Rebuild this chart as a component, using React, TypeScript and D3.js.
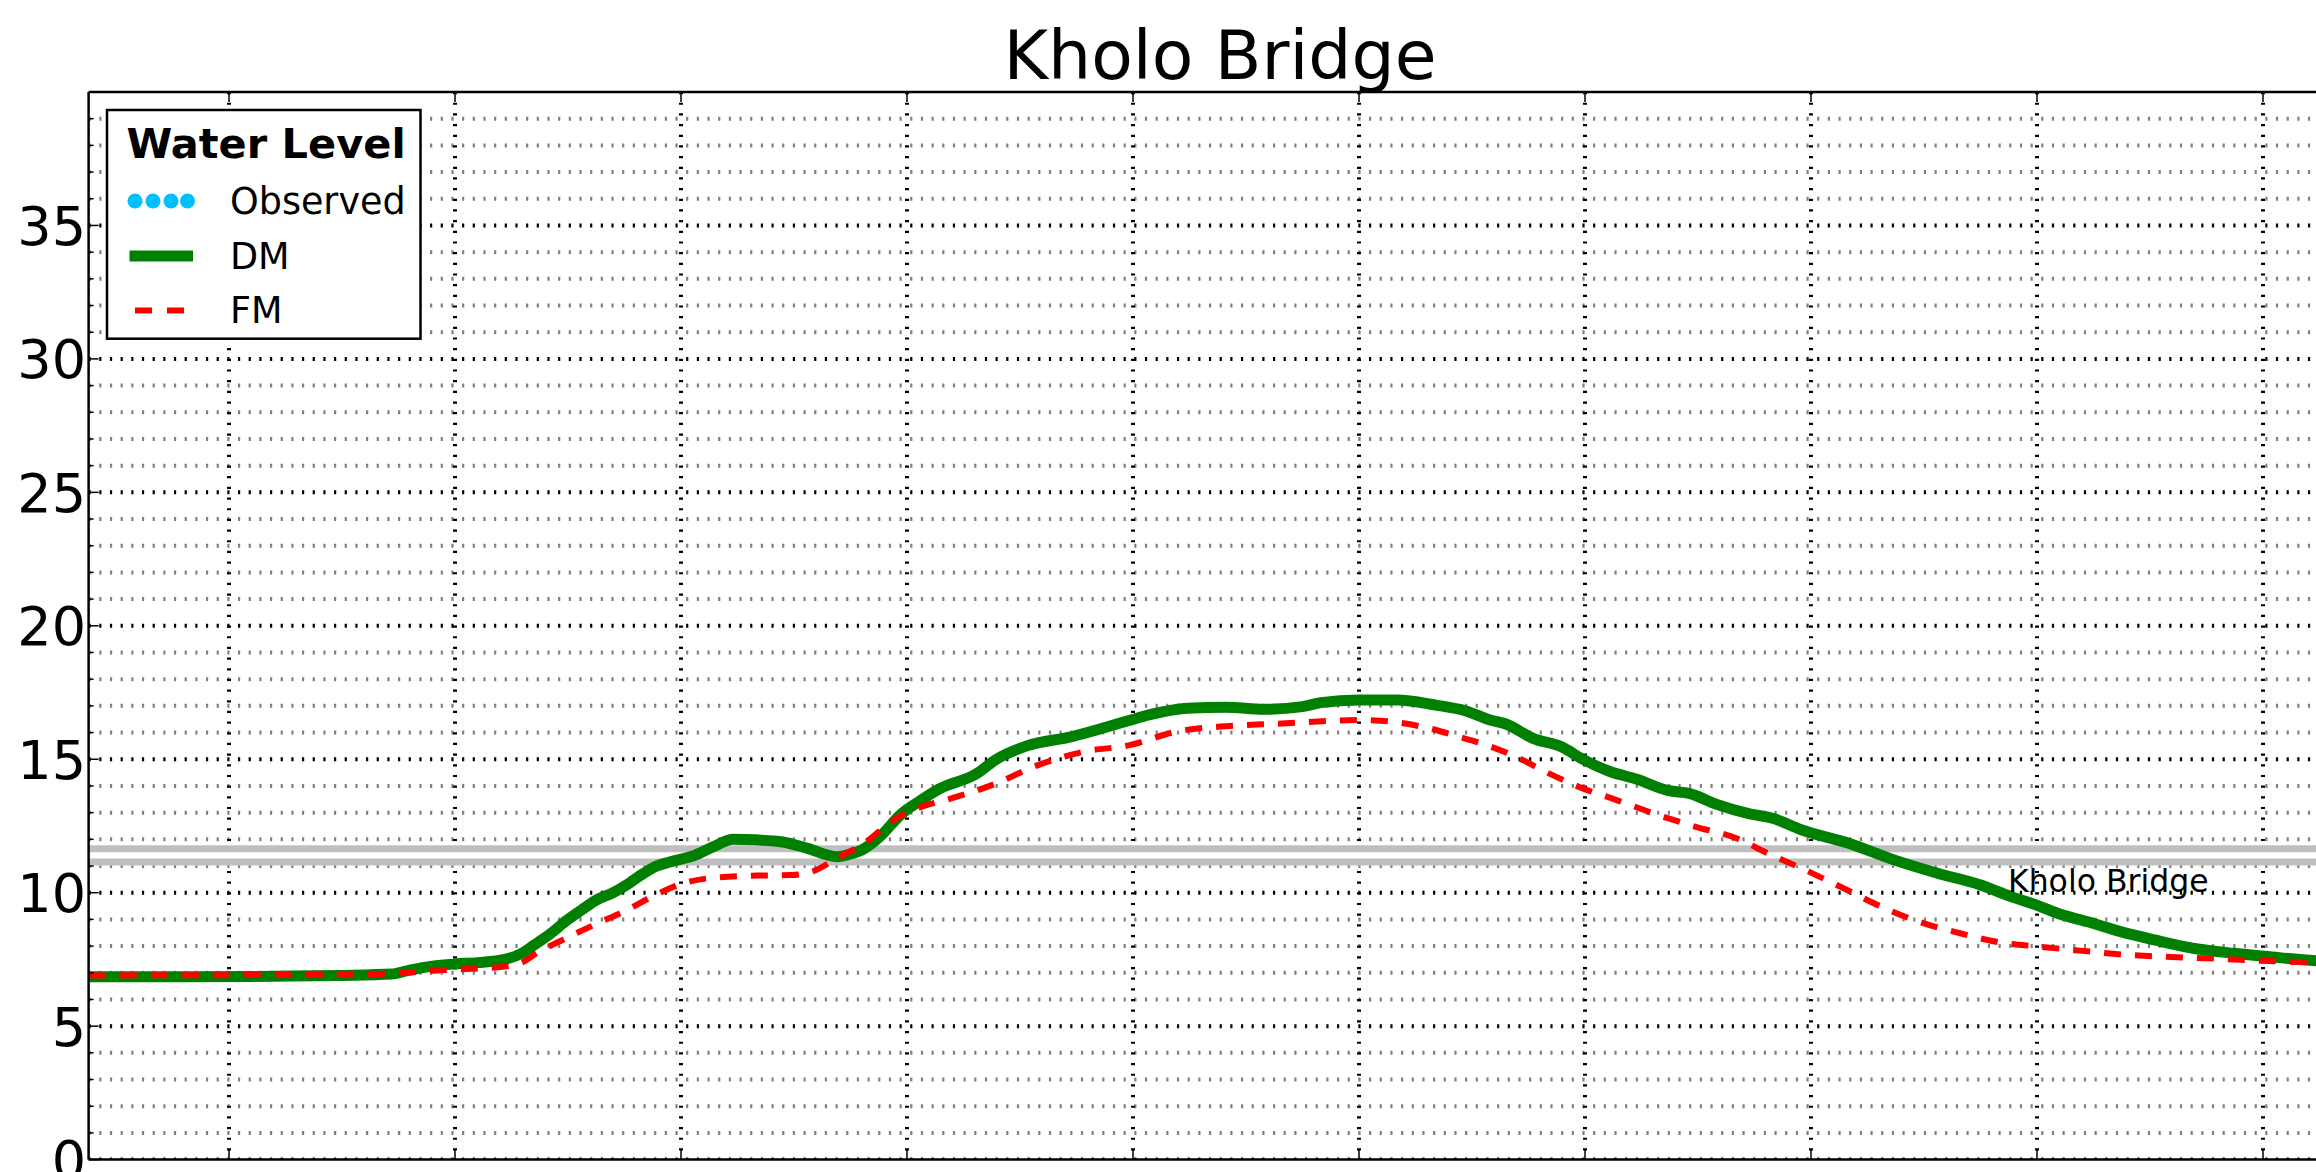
import React from "react";
import * as d3 from "d3";

// x in days relative to the first x tick; y = water level
const dmDays = [-0.62, -0.2, 0.2, 0.5, 0.72, 0.8, 0.9, 1.0, 1.1, 1.22, 1.3, 1.35, 1.42, 1.5, 1.56, 1.62, 1.7, 1.77, 1.83, 1.885, 1.95, 2.06, 2.15, 2.23, 2.33, 2.45, 2.56, 2.69, 2.75, 2.8, 2.88, 2.975, 3.05, 3.145, 3.31, 3.39, 3.53, 3.73, 3.88, 3.99, 4.07, 4.24, 4.41, 4.58, 4.75, 4.83, 5.0, 5.17, 5.34, 5.47, 5.58, 5.65, 5.77, 5.9, 5.99, 6.11, 6.23, 6.37, 6.46, 6.58, 6.72, 6.83, 6.96, 7.16, 7.36, 7.56, 7.75, 7.88, 8.01, 8.1, 8.22, 8.37, 8.52, 8.69, 8.87, 9.02, 9.235, 9.38];
const dmLevel = [6.85, 6.85, 6.87, 6.9, 6.95, 7.1, 7.25, 7.33, 7.38, 7.5, 7.75, 8.04, 8.45, 9.0, 9.35, 9.7, 10.0, 10.35, 10.7, 10.97, 11.15, 11.4, 11.75, 12.0, 11.98, 11.9, 11.66, 11.35, 11.45, 11.6, 12.1, 12.95, 13.4, 13.9, 14.47, 14.97, 15.5, 15.85, 16.2, 16.47, 16.66, 16.91, 16.95, 16.87, 16.97, 17.12, 17.22, 17.22, 17.03, 16.82, 16.47, 16.32, 15.78, 15.45, 15.0, 14.54, 14.25, 13.82, 13.72, 13.32, 12.97, 12.79, 12.35, 11.87, 11.25, 10.73, 10.29, 9.87, 9.5, 9.2, 8.92, 8.54, 8.23, 7.92, 7.73, 7.61, 7.45, 7.38];

const fmDays = [-0.62, 0.5, 0.72, 0.95, 1.22, 1.3, 1.36, 1.49, 1.63, 1.76, 1.885, 2.01, 2.17, 2.33, 2.485, 2.58, 2.69, 2.82, 2.94, 3.09, 3.17, 3.375, 3.58, 3.78, 3.985, 4.19, 4.43, 4.66, 4.87, 5.0, 5.14, 5.31, 5.44, 5.55, 5.7, 5.84, 5.99, 6.14, 6.31, 6.49, 6.67, 6.81, 6.99, 7.16, 7.31, 7.49, 7.66, 7.84, 8.01, 8.19, 8.4, 8.57, 8.78, 8.99, 9.235, 9.38];
const fmLevel = [6.9, 6.93, 6.97, 7.1, 7.23, 7.4, 7.73, 8.29, 8.85, 9.35, 9.91, 10.35, 10.58, 10.64, 10.66, 10.79, 11.29, 11.91, 12.72, 13.29, 13.47, 14.03, 14.78, 15.28, 15.53, 16.03, 16.25, 16.34, 16.44, 16.47, 16.41, 16.16, 15.85, 15.57, 15.07, 14.47, 13.91, 13.47, 12.95, 12.47, 12.04, 11.47, 10.79, 10.1, 9.48, 8.88, 8.48, 8.13, 7.98, 7.83, 7.67, 7.6, 7.53, 7.45, 7.38, 7.35];

const bridgeLevels = [11.65, 11.15];
const bridgeName = "Kholo Bridge";
const xTicks = [0, 1, 2, 3, 4, 5, 6, 7, 8, 9];
const yMajor = [0, 5, 10, 15, 20, 25, 30, 35];
const yMinor = d3.range(1, 40).filter((v) => v % 5 !== 0);
const legendItems = ["Observed", "DM", "FM"];

const W = 2316;
const H = 1172;
const FONT = "DejaVu Sans, sans-serif";

export default function App() {
  const left = 88.6, right = 2348, top = 92, bottom = 1159.6;
  const x = d3.scaleLinear().domain([-0.6213, 9.3761]).range([left, right]);
  const y = d3.scaleLinear().domain([0, 40]).range([bottom, top]);
  const line = d3
    .line<[number, number]>()
    .x((d) => x(d[0]))
    .y((d) => y(d[1]))
    .curve(d3.curveMonotoneX);
  const dm: [number, number][] = dmDays.map((d, i) => [d, dmLevel[i]]);
  const fm: [number, number][] = fmDays.map((d, i) => [d, fmLevel[i]]);
  const dash = "2.2 8.47";

  return (
    <svg
      width={W}
      height={H}
      style={{ position: "absolute", left: 0, top: 0, background: "#fff" }}
      fontFamily={FONT}
    >
      <rect x={0} y={0} width={W} height={H} fill="#fff" />
      <defs>
        <clipPath id="plot">
          <rect x={left} y={top} width={right - left} height={bottom - top} />
        </clipPath>
      </defs>
      <text x={1220} y={79} fontSize={68} textAnchor="middle" fill="#000">
        {bridgeName}
      </text>
      <g clipPath="url(#plot)">
        {yMinor.map((v) => (
          <line key={"mn" + v} x1={left} x2={right} y1={y(v)} y2={y(v)} stroke="#808080" strokeWidth={4} strokeDasharray={dash} />
        ))}
        {yMajor.map((v) => (
          <line key={"mj" + v} x1={left} x2={right} y1={y(v)} y2={y(v)} stroke="#000" strokeWidth={4} strokeDasharray={dash} />
        ))}
        {xTicks.map((t) => (
          <line key={"vx" + t} x1={x(t)} x2={x(t)} y1={top} y2={bottom} stroke="#000" strokeWidth={4} strokeDasharray={dash} />
        ))}
        {bridgeLevels.map((v) => (
          <line key={"br" + v} x1={left} x2={right} y1={y(v)} y2={y(v)} stroke="#bfbfbf" strokeWidth={7} />
        ))}
        <path d={line(dm) || ""} fill="none" stroke="#008000" strokeWidth={11} strokeLinejoin="round" />
        <path d={line(fm) || ""} fill="none" stroke="#ff0000" strokeWidth={6} strokeDasharray="17 14" />
      </g>
      <text x={2008} y={y(10) - 1} fontSize={31.5} fill="#000">
        {bridgeName}
      </text>
      {/* ticks */}
      {xTicks.map((t) => (
        <g key={"xt" + t}>
          <line x1={x(t)} x2={x(t)} y1={top} y2={top + 10} stroke="#000" strokeWidth={1.5} />
          <line x1={x(t)} x2={x(t)} y1={bottom} y2={bottom - 10} stroke="#000" strokeWidth={1.5} />
        </g>
      ))}
      {yMajor.map((v) => (
        <line key={"yt" + v} x1={left} x2={left + 10} y1={y(v)} y2={y(v)} stroke="#000" strokeWidth={1.5} />
      ))}
      {yMinor.map((v) => (
        <line key={"ymt" + v} x1={left} x2={left + 5} y1={y(v)} y2={y(v)} stroke="#000" strokeWidth={1.5} />
      ))}
      {yMajor.map((v) => (
        <text key={"yl" + v} x={86} y={y(v)} dy="0.36em" fontSize={54} textAnchor="end" fill="#000">
          {v}
        </text>
      ))}
      {/* spines */}
      <line x1={left} x2={left} y1={top} y2={bottom} stroke="#000" strokeWidth={2.5} />
      <line x1={left} x2={right} y1={top} y2={top} stroke="#000" strokeWidth={2.5} />
      <line x1={left} x2={right} y1={bottom} y2={bottom} stroke="#000" strokeWidth={2.5} />
      {/* legend */}
      <g>
        <rect x={107} y={110} width={313.5} height={228.7} fill="#fff" stroke="#000" strokeWidth={2.5} />
        <text x={266} y={158} fontSize={41.5} fontWeight="bold" textAnchor="middle" fill="#000">
          Water Level
        </text>
        {[135, 153, 171, 187.5].map((cx) => (
          <circle key={"ob" + cx} cx={cx} cy={201} r={7.5} fill="#00bfff" />
        ))}
        <line x1={129.5} x2={193} y1={256} y2={256} stroke="#008000" strokeWidth={11} />
        <line x1={135} x2={193} y1={310.5} y2={310.5} stroke="#ff0000" strokeWidth={6} strokeDasharray="17 15" />
        {legendItems.map((name, i) => (
          <text key={name} x={230} y={214 + i * 54.5} fontSize={36.5} fill="#000">
            {name}
          </text>
        ))}
      </g>
    </svg>
  );
}
